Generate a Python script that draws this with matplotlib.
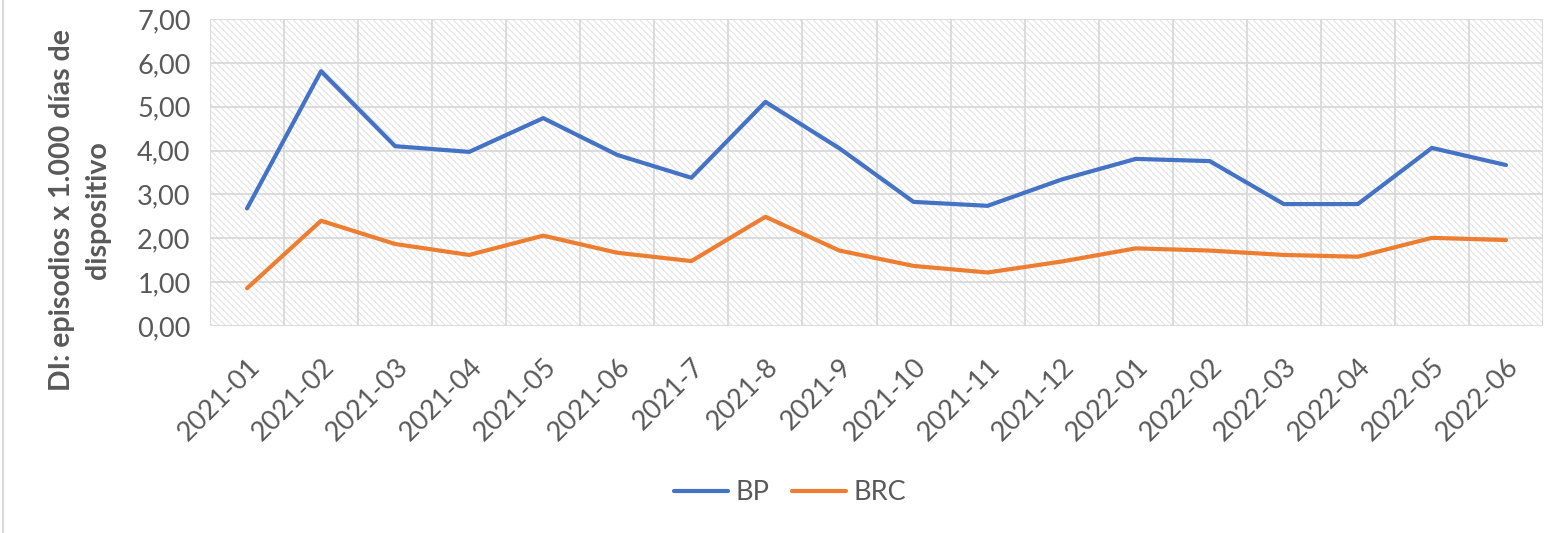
import matplotlib
matplotlib.use("Agg")
import matplotlib.pyplot as plt
from matplotlib.patches import Rectangle
from matplotlib.lines import Line2D

categories = ["2021-01", "2021-02", "2021-03", "2021-04", "2021-05", "2021-06",
              "2021-7", "2021-8", "2021-9", "2021-10", "2021-11", "2021-12",
              "2022-01", "2022-02", "2022-03", "2022-04", "2022-05", "2022-06"]
bp = [2.68, 5.81, 4.10, 3.97, 4.74, 3.90, 3.38, 5.11, 4.05, 2.83, 2.74, 3.34,
      3.81, 3.76, 2.78, 2.78, 4.06, 3.67]
brc = [0.86, 2.40, 1.87, 1.62, 2.06, 1.67, 1.48, 2.49, 1.72, 1.37, 1.22, 1.47,
       1.77, 1.72, 1.62, 1.58, 2.01, 1.96]
yticks = [0, 1, 2, 3, 4, 5, 6, 7]
ytick_labels = ["0,00", "1,00", "2,00", "3,00", "4,00", "5,00", "6,00", "7,00"]
series_names = ["BP", "BRC"]
ylabel = "DI: episodios x 1.000 días de\ndispositivo"

TXT = "#595959"
GRID = "#d9d9d9"
plt.rcParams['font.family'] = ['Lato', 'DejaVu Sans']
plt.rcParams['hatch.linewidth'] = 0.7

W, H = 1567, 533
fig = plt.figure(figsize=(W / 100, H / 100), dpi=100)
ax = fig.add_axes([210 / W, 1 - 326 / H, (1543 - 210) / W, (326 - 19) / H])

x = list(range(len(categories)))
n = len(categories)
ax.set_xlim(-0.5, n - 0.5)
ax.set_ylim(0, 7)

# hatched background
bg = Rectangle((0, 0), 1, 1, transform=ax.transAxes, facecolor='white',
               edgecolor='#e0e0e0', linewidth=0, hatch='\\\\\\\\\\', zorder=0)
ax.add_patch(bg)

# gridlines
for xv in [i - 0.5 for i in range(n + 1)]:
    ax.axvline(xv, color=GRID, lw=1.3, zorder=1)
for yv in yticks:
    ax.axhline(yv, color=GRID, lw=1.3, zorder=1)

ax.plot(x, bp, color="#4472C4", lw=3.0, label=series_names[0], zorder=3,
        solid_joinstyle='round', solid_capstyle='round')
ax.plot(x, brc, color="#ED7D31", lw=3.0, label=series_names[1], zorder=3,
        solid_joinstyle='round', solid_capstyle='round')

for s in ax.spines.values():
    s.set_visible(False)

ax.set_yticks(yticks)
ax.set_yticklabels(ytick_labels, fontsize=19.5, color=TXT)
ax.set_xticks(x)
ax.set_xticklabels(categories, fontsize=19.5, color=TXT, rotation=45,
                   ha='right', va='top', rotation_mode='anchor')
ax.tick_params(axis='both', length=0)
ax.tick_params(axis='y', pad=14)
ax.tick_params(axis='x', pad=20)

fig.text(80 / W, 1 - 210 / H, ylabel, rotation=90, ha='center', va='center',
         fontsize=20.5, fontweight='bold', color=TXT, linespacing=1.45)

fig.legend(loc='center', bbox_to_anchor=(790 / W, 1 - 493 / H), ncol=2,
           frameon=False, fontsize=19.5, handlelength=2.0, handletextpad=0.3,
           columnspacing=0.8, labelcolor=TXT)

# left border of chart area
fig.add_artist(Line2D([3 / W, 3 / W], [0, 1], transform=fig.transFigure,
                      color=GRID, lw=1.5))

fig.savefig("out.png", dpi=100)
